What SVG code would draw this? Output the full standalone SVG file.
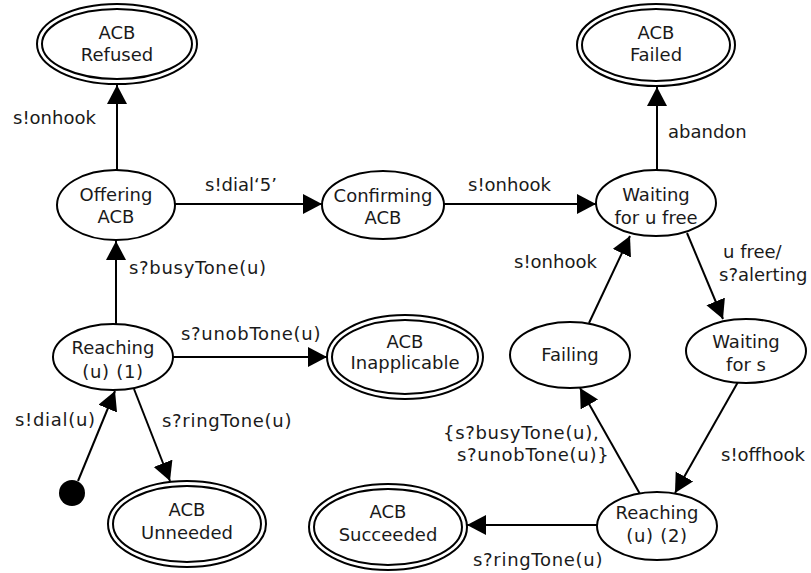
<svg xmlns="http://www.w3.org/2000/svg" width="811" height="573" viewBox="0 0 811 573">
<style>
.n{fill:#fff;stroke:#000;stroke-width:2}
.f{fill:none;stroke:#000;stroke-width:2}
text{font-family:"DejaVu Sans",Verdana,sans-serif;font-size:18px;fill:#1a1a1a}
.c{text-anchor:middle}
.p{letter-spacing:0.7px}
.e{stroke:#000;stroke-width:2;fill:none;marker-end:url(#ah)}
</style>
<defs>
<marker id="ah" markerUnits="userSpaceOnUse" markerWidth="20" markerHeight="22" refX="19" refY="10" orient="auto">
<path d="M0,0 L19,10 L0,20 z" fill="#000"/>
</marker>
</defs>
<rect width="811" height="573" fill="#fff"/>
<g id="connectors">
<line class="e" x1="116" y1="324" x2="116" y2="241"/>
<line class="e" x1="117" y1="170" x2="117" y2="85"/>
<line class="e" x1="175" y1="204" x2="322" y2="204"/>
<line class="e" x1="444" y1="204" x2="596" y2="204"/>
<line class="e" x1="657" y1="170" x2="657" y2="87"/>
<line class="e" x1="173" y1="357" x2="327" y2="357"/>
<line class="e" x1="134" y1="389" x2="170" y2="481"/>
<line class="e" x1="78" y1="481" x2="115" y2="391"/>
<line class="e" x1="687" y1="233" x2="723" y2="319"/>
<line class="e" x1="738" y1="382" x2="675" y2="493"/>
<line class="e" x1="640" y1="494" x2="580" y2="388"/>
<line class="e" x1="589" y1="323" x2="630" y2="236"/>
<line class="e" x1="597" y1="525" x2="467" y2="525"/>
<text x="13" y="124">s!onhook</text>
<text x="205" y="191">s!dial‘5’</text>
<text x="468" y="191">s!onhook</text>
<text x="668" y="138">abandon</text>
<text class="p" x="129" y="274">s?busyTone(u)</text>
<text class="p" x="181" y="340">s?unobTone(u)</text>
<text class="p" x="15" y="426">s!dial(u)</text>
<text class="p" x="162" y="427">s?ringTone(u)</text>
<text x="514" y="268">s!onhook</text>
<text x="723" y="258">u free/</text>
<text x="719" y="281">s?alerting</text>
<text class="p" x="443" y="439">{s?busyTone(u),</text>
<text class="p" x="457" y="461">s?unobTone(u)}</text>
<text x="721" y="461">s!offhook</text>
<text class="p" x="473" y="566">s?ringTone(u)</text>
</g>
<g id="refused">
<ellipse class="n" cx="117" cy="44" rx="80" ry="40"/>
<ellipse class="f" cx="117" cy="44" rx="75" ry="35"/>
<text class="c" x="117" y="39">ACB</text>
<text class="c" x="117" y="61">Refused</text>
</g>
<g id="failed">
<ellipse class="n" cx="656" cy="45" rx="79" ry="41"/>
<ellipse class="f" cx="656" cy="45" rx="74" ry="36"/>
<text class="c" x="656" y="39">ACB</text>
<text class="c" x="656" y="61">Failed</text>
</g>
<g id="offering">
<ellipse class="n" cx="116" cy="205" rx="59" ry="35"/>
<text class="c" x="116" y="201">Offering</text>
<text class="c" x="116" y="223">ACB</text>
</g>
<g id="confirming">
<ellipse class="n" cx="383" cy="205" rx="61" ry="34"/>
<text class="c" x="383" y="202">Confirming</text>
<text class="c" x="383" y="224">ACB</text>
</g>
<g id="waitingU">
<ellipse class="n" cx="656" cy="203" rx="60" ry="33"/>
<text class="c" x="656" y="201">Waiting</text>
<text class="c" x="656" y="224">for u free</text>
</g>
<g id="reaching1">
<ellipse class="n" cx="113" cy="357" rx="60" ry="33"/>
<text class="c" x="113" y="354">Reaching</text>
<text class="c p" x="113" y="378">(u) (1)</text>
</g>
<g id="inapplicable">
<ellipse class="n" cx="405" cy="357" rx="78" ry="42"/>
<ellipse class="f" cx="405" cy="357" rx="73" ry="37"/>
<text class="c" x="405" y="348">ACB</text>
<text class="c" x="405" y="369">Inapplicable</text>
</g>
<g id="unneeded">
<ellipse class="n" cx="187" cy="524" rx="79" ry="43"/>
<ellipse class="f" cx="187" cy="524" rx="74" ry="38"/>
<text class="c" x="187" y="516">ACB</text>
<text class="c" x="187" y="539">Unneeded</text>
</g>
<g id="succeeded">
<ellipse class="n" cx="388" cy="527" rx="79" ry="43"/>
<ellipse class="f" cx="388" cy="527" rx="74" ry="38"/>
<text class="c" x="388" y="518">ACB</text>
<text class="c" x="388" y="541">Succeeded</text>
</g>
<g id="failing">
<ellipse class="n" cx="570" cy="355" rx="60" ry="33"/>
<text class="c" x="570" y="361">Failing</text>
</g>
<g id="waitingS">
<ellipse class="n" cx="746" cy="351" rx="60" ry="32"/>
<text class="c" x="746" y="348">Waiting</text>
<text class="c" x="746" y="371">for s</text>
</g>
<g id="reaching2">
<ellipse class="n" cx="657" cy="526" rx="60" ry="34"/>
<text class="c" x="657" y="519">Reaching</text>
<text class="c p" x="657" y="542">(u) (2)</text>
</g>
<g id="initial">
<circle cx="72" cy="493" r="13" fill="#000"/>
</g>
</svg>
